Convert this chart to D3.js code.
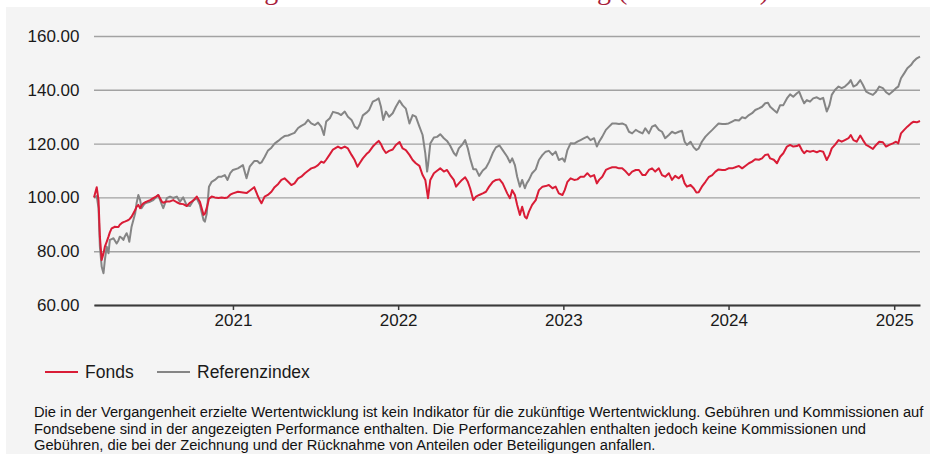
<!DOCTYPE html>
<html lang="de">
<head>
    <meta charset="UTF-8">
    <title>Wertentwicklung</title>
    <script src="https://d3js.org/d3.v7.min.js"></script>
    <style>
        body {
            margin: 0;
            padding: 0;
            background: #fff;
        }

        svg {
            display: block;
            font-family: Arial, "Liberation Sans", sans-serif;
        }

        .grid .tick line {
            stroke: #a2a2a2;
            stroke-width: 1.4px;
        }

        .axis text, .grid text {
            fill: #1a1a1a;
        }
    </style>
</head>
<body>
    <div id="chart"></div>

    <script>
        // days after 29.02.2020 (first point of the chart)
        const startDate = new Date(2020, 1, 29);
        const days = [
            0, 6, 10, 13, 17, 21, 24, 28, 32, 35,
            39, 43, 46, 50, 54, 57, 61, 65, 68, 72,
            76, 78, 83, 91, 94, 98, 102, 105, 109, 113,
            116, 124, 131, 137, 142, 150, 153, 161, 168, 175,
            183, 190, 197, 205, 212, 219, 227, 234, 242, 245,
            249, 254, 260, 267, 275, 282, 289, 295, 301, 307,
            318, 329, 337, 344, 354, 361, 366, 370, 377, 384,
            392, 399, 407, 414, 421, 429, 436, 443, 451, 458,
            466, 473, 480, 488, 495, 502, 508, 513, 521, 528,
            539, 546, 554, 561, 569, 576, 582, 587, 594, 602,
            608, 616, 623, 629, 634, 639, 645, 652, 660, 667,
            675, 682, 689, 697, 704, 711, 719, 726, 732, 736,
            738, 743, 751, 758, 765, 773, 780, 787, 795, 800,
            806, 813, 820, 826, 831, 838, 844, 851, 859, 866,
            873, 881, 888, 896, 903, 913, 919, 924, 930, 935,
            941, 946, 952, 956, 961, 968, 976, 983, 991, 998,
            1005, 1013, 1020, 1027, 1035, 1040, 1046, 1053, 1061, 1068,
            1075, 1083, 1090, 1097, 1105, 1111, 1116, 1123, 1131, 1138,
            1145, 1153, 1160, 1167, 1175, 1182, 1189, 1197, 1204, 1212,
            1218, 1226, 1233, 1240, 1248, 1255, 1262, 1270, 1277, 1284,
            1292, 1299, 1305, 1310, 1318, 1325, 1331, 1336, 1343, 1351,
            1358, 1366, 1373, 1380, 1388, 1395, 1402, 1410, 1417, 1425,
            1432, 1439, 1447, 1454, 1461, 1469, 1476, 1483, 1489, 1494,
            1502, 1509, 1516, 1523, 1531, 1538, 1545, 1553, 1558, 1564,
            1569, 1575, 1582, 1589, 1597, 1604, 1611, 1619, 1625, 1630,
            1637, 1645, 1652, 1659, 1667, 1672, 1678, 1685, 1693, 1699,
            1706, 1713, 1721, 1728, 1735, 1743, 1750, 1757, 1765, 1772,
            1777, 1783, 1790, 1797, 1805, 1810, 1818, 1825
        ];

        const fonds = [
            100, 103.8, 99, 85.4, 76.7, 79.2, 81.7, 83.5, 85.4, 87,
            88.5, 88.8, 89.1, 89, 89, 89.8, 90.4, 90.8, 91, 91.3,
            91.6, 91.8, 92.8, 95.3, 96.5, 97.2, 96, 97, 97.8, 98.2,
            98.4, 99, 99.7, 100.3, 100.9, 98.4, 98, 98.5, 98.5, 99,
            98.2, 97.6, 97.5, 96.8, 98, 98.8, 100.3, 98.4, 93.5, 93.9,
            96, 99.5, 100.3, 100, 99.8, 100, 99.8, 100, 101, 101.5,
            102.1, 101.8, 101.6, 102.5, 103.8, 100.9, 99, 97.8, 100.3, 100.9,
            102.1, 103.8, 105, 106.5, 107.1, 105.8, 104.6, 105.2, 107.1, 107.7,
            109, 109.9, 110.8, 111.2, 112, 113.3, 112.9, 114, 116, 117.8,
            118.9, 118.2, 118.9, 118.2, 115.8, 113.9, 111.4, 112.7, 114.5, 116.1,
            117, 118.9, 120.1, 121, 119.8, 118, 116.5, 117.3, 117.8, 119.5,
            120.6, 118.2, 117.6, 115.8, 113.9, 112.7, 111.7, 108.3, 106.5, 102,
            99.7, 106.5, 109, 109.9, 110.8, 109.6, 110.2, 108.3, 106.5, 104,
            105.2, 106.5, 107.5, 105.8, 103.4, 99, 100.3, 100.9, 101.5, 102.1,
            104, 105.8, 106.5, 106.7, 105.2, 101.5, 99.7, 102.7, 100.9, 97.2,
            93.5, 96.5, 92.8, 92.2, 94.7, 97.2, 99, 102.7, 104, 104.2,
            104.6, 103.4, 104, 101.5, 100.9, 102.7, 105.8, 107.1, 106.5, 106.7,
            107.7, 107.7, 109, 107.7, 108.3, 105.2, 106.5, 107.7, 110.2, 110.8,
            111.2, 111.2, 110.8, 110.8, 109.6, 108.3, 109.6, 110.2, 110.2, 108.3,
            108.3, 110.2, 110.8, 109.6, 110.8, 108.3, 107.7, 109, 106.5, 108,
            107.1, 108.3, 105.2, 104, 104.6, 103.4, 101.8, 101.9, 104, 105.8,
            107.5, 108.3, 109.6, 110.4, 110.2, 110.2, 110.8, 110.8, 111.2, 111.7,
            110.8, 111.7, 112.7, 113.3, 114.2, 114, 114.5, 115.8, 116, 114.5,
            114, 112.7, 115.1, 116.4, 118.9, 119.5, 118.9, 119.1, 119.6, 117.6,
            116.4, 117.3, 117, 117.3, 116.8, 117.3, 117, 113.9, 115.8, 118.2,
            119.5, 121.3, 120.7, 121.3, 122, 123.2, 121.3, 120.7, 123, 121.3,
            119.5, 118.9, 118, 119.5, 120.7, 120.5, 118.9, 119.5, 120.1, 120.7,
            120.1, 123.8, 125.1, 126.3, 127.5, 128.1, 127.9, 128.4
        ];

        const referenz = [
            100, 100.5, 96, 81.7, 74.2, 71.8, 76.7, 81.7, 79.2, 84.2,
            84.5, 84.8, 84, 82.9, 84, 85.4, 85, 84.2, 85.5, 86.7,
            85, 83.5, 89.1, 94.1, 97.8, 100.9, 99, 96, 97, 97.8,
            98, 98.4, 99, 100, 100.9, 97.2, 96, 99.7, 100.3, 99.8,
            100.3, 98.4, 100, 97, 96.8, 98.8, 99.7, 97.2, 91.6, 91,
            93.9, 104, 105.8, 106.5, 107.7, 107.7, 108.3, 106.5, 109, 110.2,
            110.8, 112, 107.1, 111.4, 113.5, 113.5, 112.7, 113, 115, 117.3,
            118.5, 120, 121, 122, 122.8, 123, 123.5, 124, 125.8, 126.6,
            127.3, 128.8, 127.5, 126.9, 127.8, 126.3, 123.2, 128.2, 129.4, 131.8,
            131.3, 130.6, 131.9, 130, 128.8, 126.3, 125.5, 127, 130.5, 131.5,
            132.5, 135.6, 136.2, 136.8, 133.7, 128.8, 131.9, 130, 131.3, 133.7,
            136, 134.2, 133, 127.5, 130.6, 130, 126.3, 123.2, 116.4, 109.6,
            112, 120, 122.3, 122.5, 123.5, 122, 121, 119.2, 116.5, 115.5,
            118.2, 119.5, 121.3, 118.2, 114.5, 110.5, 110.5, 108, 110, 111,
            113.2, 116.5, 118.6, 119.3, 117.6, 115.1, 113, 114.5, 112, 107.7,
            104, 106.5, 103.4, 105.2, 106.5, 109, 110.4, 113.9, 115.8, 117,
            117.3, 115.8, 117, 113.9, 114.5, 113.3, 117.6, 120.1, 120, 120.7,
            121.3, 122, 122.6, 121.3, 122, 118.9, 120.7, 122.6, 125.1, 126.3,
            127.5, 127.5, 127.3, 127.5, 126.9, 124.4, 123.8, 125.1, 124.4, 123.8,
            125.7, 123.8, 126.3, 126.9, 125.1, 124.4, 122, 123.2, 124.4, 123.8,
            124.4, 124.8, 120.7, 119.5, 120.7, 118.6, 117.6, 118.2, 120.7, 122.6,
            123.8, 125.1, 126.3, 127.5, 127.3, 127.3, 127.5, 128.2, 128.8, 128.6,
            129.8, 129.4, 130.6, 131.3, 132.5, 133.1, 133.7, 135, 135.2, 133.7,
            132.5, 131.5, 134.3, 134.3, 136.8, 138.3, 137.4, 138.7, 139.3, 136.8,
            135, 136.2, 135.6, 136.8, 137.2, 136.5, 137, 131.9, 134.3, 138.1,
            139.9, 141.2, 140.6, 141.2, 142.4, 143.6, 141.2, 141.8, 143.6, 141.8,
            139.3, 138.7, 138.1, 139.3, 141.2, 140.6, 139.1, 138.3, 139.5, 140.6,
            141.2, 144.3, 146.1, 148, 149.2, 150.4, 151.7, 152.3
        ];

        const yTicks = [60, 80, 100, 120, 140, 160];
        const yearTicks = [2021, 2022, 2023, 2024, 2025];
        const seriesNames = ["Fonds", "Referenzindex"];
        const title = "Wertentwicklung der Anteile in Fondswährung (Basis = 100)";
        const footnote = [
            "Die in der Vergangenheit erzielte Wertentwicklung ist kein Indikator für die zukünftige Wertentwicklung. Gebühren und Kommissionen auf",
            "Fondsebene sind in der angezeigten Performance enthalten. Die Performancezahlen enthalten jedoch keine Kommissionen und",
            "Gebühren, die bei der Zeichnung und der Rücknahme von Anteilen oder Beteiligungen anfallen."
        ];

        const colors = { "Fonds": "#d91c36", "Referenzindex": "#858585" };

        const width = 941, height = 454;
        const plot = { left: 94, right: 920, top: 36, bottom: 305 };

        const svg = d3.select("#chart").append("svg")
            .attr("width", width)
            .attr("height", height);

        svg.append("rect")
            .attr("width", width)
            .attr("height", height)
            .attr("fill", "#fff");

        // title sits above the cut, only the descenders show
        svg.append("text")
            .attr("x", 86)
            .attr("y", -1)
            .attr("font-family", "'Liberation Serif', 'Times New Roman', serif")
            .attr("font-size", 28)
            .attr("fill", "#a8203a")
            .text(title);

        // grey panel
        svg.append("rect")
            .attr("x", 6)
            .attr("y", 7)
            .attr("width", 924)
            .attr("height", height - 7)
            .attr("fill", "#f4f4f4");

        const dates = days.map(d => d3.timeDay.offset(startDate, d));

        const x = d3.scaleTime()
            .domain(d3.extent(dates))
            .range([plot.left, plot.right]);

        const y = d3.scaleLinear()
            .domain([60, 160])
            .range([plot.bottom, plot.top]);

        // horizontal grid + y labels
        const grid = svg.append("g")
            .attr("class", "grid")
            .attr("transform", `translate(${plot.left},0)`)
            .call(d3.axisLeft(y)
                .tickValues(yTicks)
                .tickFormat(d3.format(".2f"))
                .tickSize(-(plot.right - plot.left))
                .tickPadding(14.5));

        grid.select(".domain").remove();
        grid.selectAll("text")
            .attr("font-size", 17)
            .attr("font-family", "Arial, 'Liberation Sans', sans-serif");

        // x axis
        const xAxis = svg.append("g")
            .attr("class", "axis")
            .attr("transform", `translate(0,${plot.bottom})`)
            .call(d3.axisBottom(x)
                .tickValues(yearTicks.map(yr => new Date(yr, 0, 1)))
                .tickFormat(d3.timeFormat("%Y"))
                .tickSizeInner(5)
                .tickSizeOuter(0)
                .tickPadding(4));

        xAxis.select(".domain")
            .attr("stroke", "#3a3a3a")
            .attr("stroke-width", 2);
        xAxis.selectAll(".tick line")
            .attr("stroke", "#3a3a3a")
            .attr("stroke-width", 1.5);
        xAxis.selectAll("text")
            .attr("font-size", 17)
            .attr("font-family", "Arial, 'Liberation Sans', sans-serif");

        // lines, reference first so the fund is on top
        const line = d3.line()
            .x((d, i) => x(dates[i]))
            .y(d => y(d));

        const seriesData = { "Fonds": fonds, "Referenzindex": referenz };

        svg.append("g")
            .selectAll("path")
            .data(seriesNames.slice().reverse())
            .join("path")
            .attr("fill", "none")
            .attr("stroke", d => colors[d])
            .attr("stroke-width", 2)
            .attr("stroke-linejoin", "round")
            .attr("d", d => line(seriesData[d]));

        // legend
        const legend = svg.append("g")
            .attr("transform", "translate(45,372)");

        const legendItems = legend.selectAll("g")
            .data(seriesNames)
            .join("g")
            .attr("transform", (d, i) => `translate(${i * 112},0)`);

        legendItems.append("line")
            .attr("x1", 0)
            .attr("x2", 33)
            .attr("stroke", d => colors[d])
            .attr("stroke-width", 2);

        legendItems.append("text")
            .attr("x", 40)
            .attr("dy", "0.35em")
            .attr("font-size", 17.5)
            .attr("fill", "#1a1a1a")
            .text(d => d);

        // footnote
        svg.append("g")
            .selectAll("text")
            .data(footnote)
            .join("text")
            .attr("x", 34)
            .attr("y", (d, i) => 417 + i * 16.5)
            .attr("font-size", 14.7)
            .attr("fill", "#111")
            .text(d => d);
    </script>
</body>
</html>
